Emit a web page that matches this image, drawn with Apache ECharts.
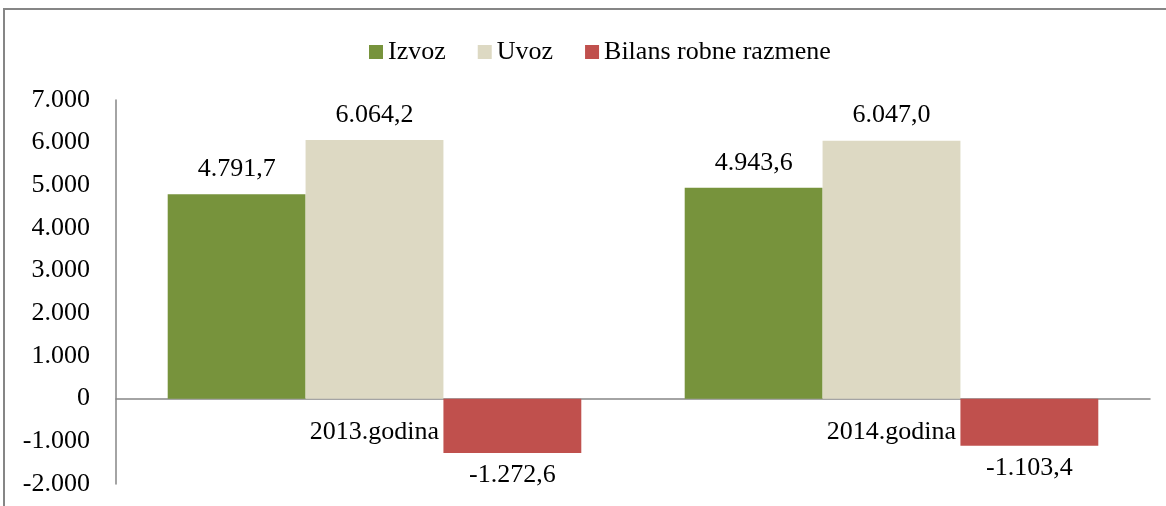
<!DOCTYPE html>
<html><head><meta charset="utf-8">
<script src="https://cdn.jsdelivr.net/npm/echarts@6/dist/echarts.min.js"></script>
<style>html,body{margin:0;padding:0;background:#fff}#c{width:1166px;height:506px}</style>
</head><body><div id="c"></div>
<script>
const categories = ['2013.godina', '2014.godina'];
const izvoz = [4791.7, 4943.6];
const uvoz = [6064.2, 6047.0];
const bilans = [-1272.6, -1103.4];
const seriesNames = ['Izvoz', 'Uvoz', 'Bilans robne razmene'];
const yMin = -2000, yMax = 7000, yStep = 1000;

function fmt(v, dec) {
  const neg = v < 0; v = Math.abs(v);
  let s = dec ? v.toFixed(dec) : Math.round(v).toString();
  let [i, d] = s.split('.');
  i = i.replace(/\B(?=(\d{3})+(?!\d))/g, '.');
  return (neg ? '-' : '') + i + (d ? ',' + d : '');
}
const font = 'Liberation Serif, Times New Roman, serif';
const W = 1166, H = 506, gTop = 100, gBottom = 22, gLeft = 116, gRight = 16;
const plotH = H - gTop - gBottom;
const zeroOffset = plotH * (0 - yMin) / (yMax - yMin);
const chart = echarts.init(document.getElementById('c'));
const lbl = (pos, dist) => ({show: true, position: pos, distance: dist, color: '#000', fontFamily: font, fontSize: 26, formatter: p => fmt(p.value, 1)});
chart.setOption({
  animation: false,
  graphic: [{type: 'rect', shape: {x: 4, y: 9, width: 1170, height: 510}, style: {fill: 'none', stroke: '#868686', lineWidth: 2}, silent: true}],
  legend: {top: 34, left: 364, itemWidth: 14, itemHeight: 14, itemGap: 32, icon: 'rect',
    textStyle: {fontFamily: font, fontSize: 26, color: '#000'}, data: seriesNames},
  grid: {left: gLeft, right: gRight, top: gTop, bottom: gBottom, containLabel: false, outerBoundsMode: 'none'},
  xAxis: {type: 'category', data: categories, offset: -zeroOffset,
    axisLine: {onZero: false, lineStyle: {color: '#868686', width: 1.5}},
    axisTick: {show: false},
    axisLabel: {interval: 0, margin: 21, color: '#000', fontFamily: font, fontSize: 26}},
  yAxis: {type: 'value', min: yMin, max: yMax, interval: yStep,
    axisLine: {show: true, lineStyle: {color: '#868686', width: 1.5}},
    axisTick: {show: false}, splitLine: {show: false},
    axisLabel: {margin: 26, color: '#000', fontFamily: font, fontSize: 26, formatter: v => fmt(v, 0)}},
  series: [
    {name: seriesNames[0], type: 'bar', data: izvoz, itemStyle: {color: '#77933C'}, barGap: '0%', barCategoryGap: '20%', label: lbl('top', 12)},
    {name: seriesNames[1], type: 'bar', data: uvoz, itemStyle: {color: '#DDD9C3'}, barGap: '0%', barCategoryGap: '20%', label: lbl('top', 12)},
    {name: seriesNames[2], type: 'bar', data: bilans, itemStyle: {color: '#C0504D'}, barGap: '0%', barCategoryGap: '20%', label: lbl('bottom', 9)}
  ]
});
</script></body></html>
